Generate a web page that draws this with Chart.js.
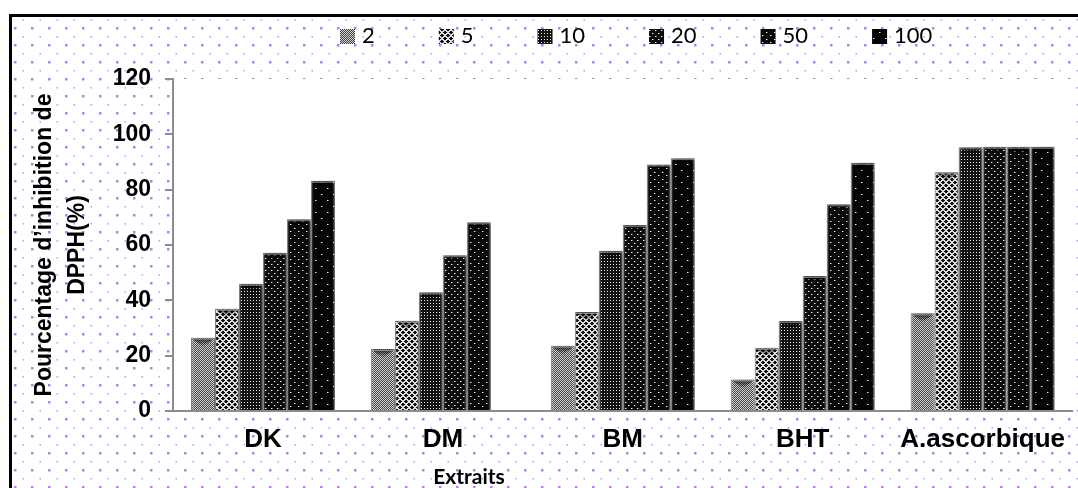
<!DOCTYPE html>
<html>
<head>
<meta charset="utf-8">
<script src="https://cdn.jsdelivr.net/npm/chart.js@4.4.1/dist/chart.umd.min.js"></script>
<style>
  html, body { margin: 0; padding: 0; background: #fff; }
  #frame {
    position: absolute; left: 9px; top: 14px;
    width: 1066px; height: 471px;
    border-left: 3px solid #000; border-top: 3px solid #000;
  }
  canvas { display: block; }
</style>
</head>
<body>
<div id="frame"><canvas id="dpph" width="1066" height="471"></canvas></div>
<script>
// Extracts on the x axis, one series per concentration
const extraits = ['DK', 'DM', 'BM', 'BHT', 'A.ascorbique'];
const concentrations = ['2', '5', '10', '20', '50', '100'];

// % inhibition of DPPH for each concentration
const inhib2   = [26.5, 22.4, 23.6, 11.4, 35.3];
const inhib5   = [37.0, 32.6, 35.8, 22.9, 86.3];
const inhib10  = [46.0, 42.9, 57.9, 32.5, 95.3];
const inhib20  = [57.2, 56.3, 67.2, 48.8, 95.5];
const inhib50  = [69.3, 68.2, 89.1, 74.7, 95.5];
const inhib100 = [83.2, null, 91.4, 89.7, 95.5];
const seriesValues = [inhib2, inhib5, inhib10, inhib20, inhib50, inhib100];

const yMin = 0, yMax = 120, yStep = 20;
const yTitle = ['Pourcentage d\u2019inhibition de', 'DPPH(%)'];
const xTitle = 'Extraits';

const canvas = document.getElementById('dpph');
const ctx = canvas.getContext('2d');

// small repeating tiles used as bar fills
function tile(w, h, paint) {
    const c = document.createElement('canvas');
    c.width = w; c.height = h;
    const g = c.getContext('2d');
    paint(g, w, h);
    return ctx.createPattern(c, 'repeat');
}
function dot(g, x, y, col, s) {
    g.fillStyle = col;
    g.fillRect(x, y, s || 1, s || 1);
}

const fills = [
    // fine checker, grey
    tile(2, 2, g => {
        g.fillStyle = '#d0d0d0'; g.fillRect(0, 0, 2, 2);
        dot(g, 0, 0, '#444'); dot(g, 1, 1, '#444');
    }),
    // white lattice over black crosses
    tile(6, 6, g => {
        for (let x = 0; x < 6; x++) for (let y = 0; y < 6; y++) {
            const a = (x + y) % 6, b = (x - y + 6) % 6;
            dot(g, x, y, (a < 2 || b < 2) ? '#dedede' : '#111');
        }
    }),
    // dense white dots
    tile(3, 3, g => {
        g.fillStyle = '#121212'; g.fillRect(0, 0, 3, 3);
        dot(g, 1, 1, '#f0f0f0');
    }),
    // staggered dots
    tile(6, 6, g => {
        g.fillStyle = '#0c0c0c'; g.fillRect(0, 0, 6, 6);
        dot(g, 1, 1, '#f4f4f4'); dot(g, 4, 4, '#f4f4f4');
        dot(g, 2, 1, '#707070'); dot(g, 5, 4, '#707070');
    }),
    // sparser dots
    tile(8, 7, g => {
        g.fillStyle = '#080808'; g.fillRect(0, 0, 8, 7);
        dot(g, 2, 1, '#f4f4f4'); dot(g, 6, 4, '#f4f4f4');
        dot(g, 3, 1, '#6a6a6a'); dot(g, 7, 4, '#6a6a6a');
    }),
    // very sparse dots
    tile(12, 12, g => {
        g.fillStyle = '#050505'; g.fillRect(0, 0, 12, 12);
        dot(g, 3, 3, '#f4f4f4'); dot(g, 9, 9, '#f4f4f4');
        dot(g, 4, 3, '#777'); dot(g, 10, 9, '#777');
    })
];

// dotted paper behind the chart, white plot area
const paperPlugin = {
    id: 'paper',
    beforeDraw(chart) {
        const c = chart.ctx, a = chart.chartArea;
        c.save();
        c.fillStyle = '#fff';
        c.fillRect(0, 0, chart.width, chart.height);
        for (let y = 11; y < chart.height + 17; y += 17) {
            for (let x = 3; x < chart.width + 17; x += 17) {
                c.fillStyle = '#b87cf8';
                c.fillRect(x - 1, y - 1, 2.5, 2.5);
                c.fillStyle = '#c99ef6';
                c.fillRect(x + 7.5, y - 9, 1.6, 1.6);
            }
        }
        c.fillStyle = '#fff';
        c.fillRect(a.left, a.top, a.right - a.left, a.bottom - a.top);
        c.restore();
    },
    beforeDatasetsDraw(chart) {
        const c = chart.ctx;
        c.save();
        c.shadowColor = 'rgba(0,0,0,0.45)';
        c.shadowBlur = 6;
        c.shadowOffsetX = 3;
        c.shadowOffsetY = 2;
    },
    afterDatasetsDraw(chart) {
        const c = chart.ctx;
        c.restore();
        // bevelled look on every bar
        chart.data.datasets.forEach((ds, i) => {
            chart.getDatasetMeta(i).data.forEach((bar, j) => {
                if (ds.data[j] == null) return;
                const { x, y, base, width } = bar.getProps(['x', 'y', 'base', 'width'], true);
                const l = x - width / 2, r = x + width / 2;
                c.save();
                const side = c.createLinearGradient(l, 0, r, 0);
                side.addColorStop(0, 'rgba(255,255,255,0.30)');
                side.addColorStop(0.12, 'rgba(255,255,255,0)');
                side.addColorStop(0.88, 'rgba(255,255,255,0)');
                side.addColorStop(1, 'rgba(255,255,255,0.25)');
                c.fillStyle = side;
                c.fillRect(l, y, width, base - y);
                const top = c.createLinearGradient(0, y, 0, y + 9);
                top.addColorStop(0, 'rgba(0,0,0,0.75)');
                top.addColorStop(1, 'rgba(0,0,0,0)');
                c.fillStyle = top;
                c.beginPath();
                c.moveTo(l + 1, y + 1);
                c.lineTo(r - 1, y + 1);
                c.lineTo(x, y + 9);
                c.closePath();
                c.fill();
                c.fillStyle = 'rgba(255,255,255,0.45)';
                c.fillRect(l + 1, y + 1, width - 2, 1);
                c.restore();
            });
        });
    },
    afterDraw(chart) {
        const c = chart.ctx;
        c.save();
        // legend row
        c.font = '22px Lato';
        c.textBaseline = 'middle';
        c.textAlign = 'left';
        let lx = 328;
        chart.data.datasets.forEach(ds => {
            c.fillStyle = ds.backgroundColor;
            c.fillRect(lx, 12, 15, 15);
            c.fillStyle = '#000';
            c.fillText(ds.label, lx + 22, 19);
            lx += 22 + c.measureText(ds.label).width + 64;
        });
        // x axis title
        c.font = 'bold 21px Lato';
        c.textAlign = 'center';
        c.fillStyle = '#000';
        c.fillText(xTitle, 457, 460);
        c.restore();
    }
};

new Chart(canvas, {
    type: 'bar',
    data: {
        labels: extraits,
        datasets: concentrations.map((lab, i) => ({
            label: lab,
            data: seriesValues[i],
            backgroundColor: fills[i],
            borderColor: 'rgba(20,20,20,0.7)',
            borderWidth: 1,
            categoryPercentage: 0.8,
            barPercentage: 1.0
        }))
    },
    options: {
        responsive: false,
        animation: false,
        devicePixelRatio: 1,
        layout: { padding: { top: 62, left: 0, right: 0, bottom: 0 } },
        plugins: {
            legend: { display: false },
            tooltip: { enabled: false }
        },
        scales: {
            x: {
                grid: { display: false, drawTicks: false },
                border: { color: '#8c8c8c', width: 2 },
                ticks: {
                    color: '#000',
                    font: { family: 'Liberation Sans', size: 26, weight: 'bold' },
                    padding: 13,
                    maxRotation: 0,
                    autoSkip: false
                },
                afterFit(s) { s.height = 77; }
            },
            y: {
                min: yMin,
                max: yMax,
                ticks: {
                    stepSize: yStep,
                    color: '#000',
                    font: { family: 'Liberation Sans', size: 23, weight: 'bold' },
                    padding: 14
                },
                grid: { drawOnChartArea: false, tickLength: 8, color: '#8c8c8c', lineWidth: 2 },
                border: { color: '#8c8c8c', width: 2 },
                title: {
                    display: true,
                    text: yTitle,
                    color: '#000',
                    font: { family: 'Liberation Sans', size: 23, weight: 'bold', lineHeight: 1.43 },
                    padding: { top: 16, bottom: 0 }
                },
                afterFit(s) { s.width = 161; }
            }
        }
    },
    plugins: [paperPlugin]
});
</script>
</body>
</html>
